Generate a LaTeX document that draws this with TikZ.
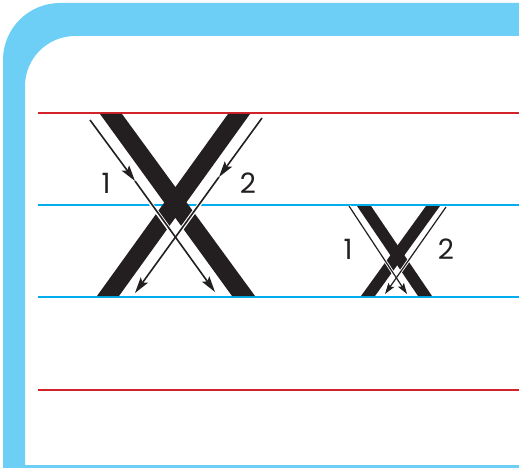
\documentclass[tikz,border=0pt]{standalone}
\usepackage{fontspec}
\setmainfont{Poppins}
\usetikzlibrary{arrows.meta}
\definecolor{frameblue}{HTML}{6DCFF6}
\definecolor{lineblue}{HTML}{00AEEF}
\definecolor{linered}{HTML}{D2232A}
\definecolor{ink}{HTML}{231F20}
\tikzset{
  redline/.style={draw=linered,line width=2.6pt},
  blueline/.style={draw=lineblue,line width=2.6pt},
  stroke/.style={fill=ink,draw=none},
  casing/.style={draw=white,line width=4pt},
  bigarrow/.style={draw=ink,line width=1.6pt,-{Stealth[length=16pt,width=9pt,inset=3pt]}},
  smallarrow/.style={draw=ink,line width=1.2pt,-{Stealth[length=11pt,width=7pt,inset=2pt]}},
  numlabel/.style={text=ink,font=\fontsize{28}{28}\selectfont,inner sep=0pt}
}
\begin{document}
\begin{tikzpicture}[x=1pt,y=-1pt]
\useasboundingbox (0,0) rectangle (519,468);
% frame
\fill[frameblue] (3,468) -- (3,60) .. controls (3,28.5) and (28.5,3) .. (60,3) -- (519,3) -- (519,36)
  -- (75,36) .. controls (47.4,36) and (25,58.4) .. (25,86) -- (25,465) -- (519,465) -- (519,468) -- cycle;
% ruled lines
\path[redline] (38,113) -- (519,113);
\path[blueline] (38,205) -- (519,205);
\path[blueline] (38,297) -- (519,297);
\path[redline] (38,390) -- (519,390);
% big X
\fill[stroke] (100,114) -- (122,114) -- (255,296) -- (232,296) -- cycle;
\fill[stroke] (228,114) -- (250,114) -- (119,296) -- (97,296) -- cycle;
\coordinate (a1s) at (90,120);
\coordinate (a1m) at (135,181);
\coordinate (a1e) at (215,292);
\coordinate (a2s) at (262,118);
\coordinate (a2m) at (219,177);
\coordinate (a2e) at (135,293);
\path[casing] (a1s) -- (a1e);
\path[casing] (a2s) -- (a2e);
\path[bigarrow] (a1s) -- (a1m);
\path[bigarrow] (a1m) -- (a1e);
\path[bigarrow] (a2s) -- (a2m);
\path[bigarrow] (a2m) -- (a2e);
\node[numlabel] (l1) at (106,183) {1};
\node[numlabel] (l2) at (248,183) {2};
% small X
\fill[stroke] (357,206) -- (371,206) -- (432,296) -- (418,296) -- cycle;
\fill[stroke] (426,206) -- (440,206) -- (375,296) -- (361,296) -- cycle;
\coordinate (b1s) at (349,206);
\coordinate (b1e) at (407,294);
\coordinate (b2s) at (446,207);
\coordinate (b2e) at (385,294);
\path[draw=white,line width=3pt] (b1s) -- (b1e);
\path[draw=white,line width=3pt] (b2s) -- (b2e);
\path[smallarrow] (b1s) -- (b1e);
\path[smallarrow] (b2s) -- (b2e);
\node[numlabel] (s1) at (348,249) {1};
\node[numlabel] (s2) at (446,249) {2};
\end{tikzpicture}
\end{document}
